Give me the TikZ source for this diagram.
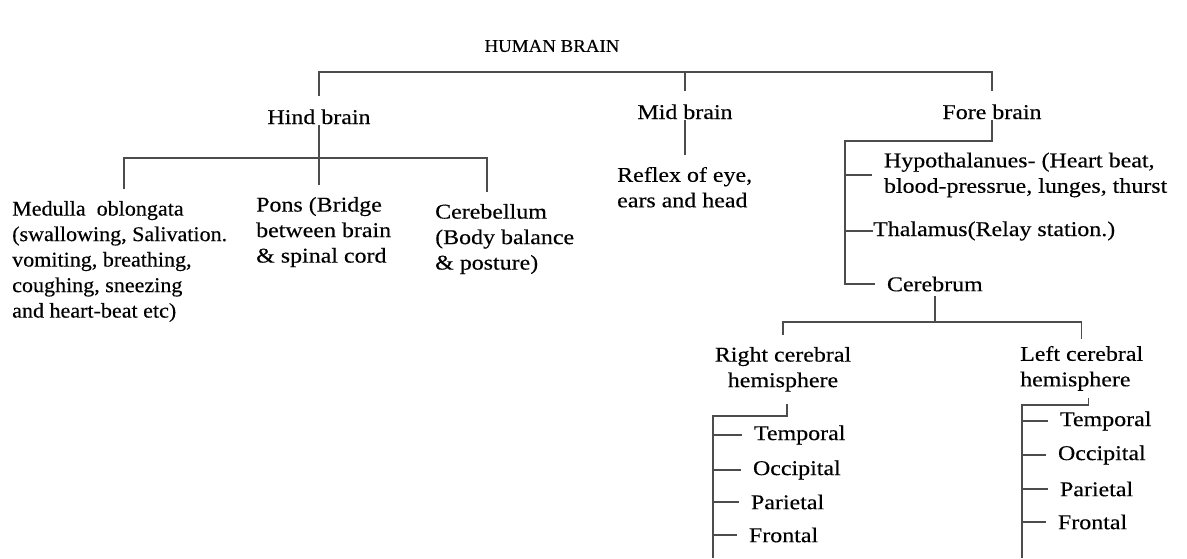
\documentclass[tikz,border=0pt]{standalone}
\usepackage{fontspec}
\setmainfont{Liberation Serif}[FakeStretch=1.14, FakeBold=0.3]
\newfontfamily\narrowfont{Liberation Serif}[FakeStretch=1.05, FakeBold=0.3]
\newcommand\brainfont{\fontsize{21}{25.5}\selectfont}
\usepackage{tikz}

\begin{document}
\begin{tikzpicture}[x=1pt, y=-1pt,
    link/.style={draw=black!70, line width=1.3pt},
    head/.style={inner sep=0pt, text height=28pt, text depth=1pt, font=\brainfont},
    txt/.style={inner sep=0pt, outer ysep=12pt, align=left, font=\brainfont},
    leaf/.style={txt, outer xsep=12pt}]
      \useasboundingbox (0, 0) rectangle (1187, 558);

      \node [font=\narrowfont\fontsize{18}{20}\selectfont] (title) at (552, 46) {HUMAN BRAIN};

      \coordinate (root) at (684, 72);
      \node [head, anchor=base] (hind) at (319, 124) {Hind brain};
      \node [head, anchor=base] (mid)  at (685, 119) {Mid brain};
      \node [head, anchor=base] (fore) at (992, 119) {Fore brain};
      \draw [link] (hind.north) |- (root) -| (fore.north);
      \draw [link] (mid.north) -- (mid.north |- root);

      % hind brain
      \coordinate (hbar) at (319, 158);
      \coordinate (hbl) at (124, 158);
      \coordinate (hbr) at (487, 158);
      \node [txt, anchor=north west, font=\narrowfont\brainfont] (med) at (12, 189)
            {Medulla\ \ oblongata\\(swallowing, Salivation.\\vomiting, breathing,\\coughing, sneezing\\and heart-beat etc)};
      \node [txt, anchor=north west] (pons) at (256, 185) {Pons (Bridge\\between brain\\\& spinal cord};
      \node [txt, anchor=north west] (cereb) at (435, 192) {Cerebellum\\(Body balance\\\& posture)};
      \draw [link] (hind.south) -- (hind.south |- pons.north);
      \draw [link] (hbl |- med.north) |- (hbar) -| (hbr |- cereb.north);

      % mid brain
      \node [txt, anchor=north west] (reflex) at (617, 155) {Reflex of eye,\\ears and head};
      \draw [link] (mid.south) -- (mid.south |- reflex.north);

      % fore brain
      \coordinate (fbar) at (845, 141);
      \node [leaf, anchor=west] (hypo) at (872, 175) {Hypothalanues- (Heart beat,\\blood-pressrue, lunges, thurst};
      \node [txt, anchor=west] (thal) at (873, 231) {Thalamus(Relay station.)};
      \node [leaf, anchor=west, outer ysep=5pt] (cbrm) at (875, 284) {Cerebrum};
      \draw [link] (fore.south) |- (fbar) |- (cbrm.west);
      \draw [link] (fbar |- hypo.west) -- (hypo.west);
      \draw [link] (fbar |- thal.west) -- (thal.west);

      % cerebrum
      \coordinate (cbar) at (932, 322);
      \node [txt, anchor=north, align=center] (rhem) at (783, 335) {Right cerebral\\hemisphere};
      \node [txt, anchor=north west, outer ysep=7pt] (lhem) at (1020, 339) {Left cerebral\\hemisphere};
      \draw [link] (cbrm.south) -- (cbrm.south |- cbar);
      \draw [link] (rhem.north) |- (cbar) -| (lhem.north);

      % right hemisphere
      \coordinate (rstem) at (713, 416);
      \coordinate (rbot) at (713, 558);
      \node [leaf, anchor=west] (rtem) at (742, 435) {Temporal};
      \node [leaf, anchor=west] (rocc) at (741, 470) {Occipital};
      \node [leaf, anchor=west] (rpar) at (739, 502) {Parietal};
      \node [leaf, anchor=west] (rfro) at (737, 535) {Frontal};
      \draw [link] ([xshift=4pt]rhem.south) |- (rstem) -- (rbot);
      \foreach \n in {rtem, rocc, rpar, rfro}
        \draw [link] (rstem |- \n.west) -- (\n.west);

      % left hemisphere
      \coordinate (lstem) at (1022, 405);
      \coordinate (lbot) at (1022, 558);
      \node [leaf, anchor=west] (ltem) at (1048, 421) {Temporal};
      \node [leaf, anchor=west] (locc) at (1046, 455) {Occipital};
      \node [leaf, anchor=west] (lpar) at (1048, 489) {Parietal};
      \node [leaf, anchor=west] (lfro) at (1046, 522) {Frontal};
      \draw [link] ([xshift=7pt]lhem.south) |- (lstem) -- (lbot);
      \foreach \n in {ltem, locc, lpar, lfro}
        \draw [link] (lstem |- \n.west) -- (\n.west);
\end{tikzpicture}
\end{document}
